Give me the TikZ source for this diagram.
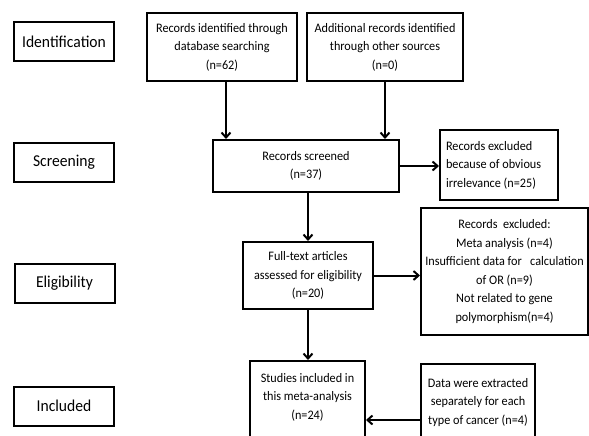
\documentclass[tikz,border=0pt]{standalone}
\usepackage{fontspec}
\setmainfont{Carlito}[FakeStretch=0.94]
\usetikzlibrary{arrows.meta}
\begin{document}
\begin{tikzpicture}[x=1pt,y=-1pt,
  base/.style={draw, line width=2pt, inner sep=0pt, align=center},
  lab/.style={base, minimum width=100pt, minimum height=39pt, font=\fontsize{16.6}{20}\selectfont},
  flow/.style={base, font=\fontsize{13}{18.5}\selectfont},
  arr/.style={line width=2pt, -{Straight Barb[length=5pt,width=9pt,line width=2pt]}}]
\useasboundingbox (0,0) rectangle (589,436);
% stage labels
\node[lab] (idlab)  at (64,41.5)  {Identification};
\node[lab] (scrlab) at (64,162.5) {Screening};
\node[lab] (elilab) at (64.5,283.5) {Eligibility};
\node[lab] (inclab) at (64,406)   {Included};
% flow boxes
\node[flow, minimum width=150pt, minimum height=68pt] (box1) at (222,47)
  {Records identified through\\database searching\\(n=62)};
\node[flow, minimum width=156pt, minimum height=68pt] (box2) at (385,47)
  {Additional records identified\\through other sources\\(n=0)};
\node[flow, minimum width=186pt, minimum height=52pt] (scr) at (306,166)
  {Records screened\\(n=37)};
\node[flow, minimum width=118pt, minimum height=70pt, text width=106pt, align=flush left] (exc1) at (499,165)
  {Records excluded\\because of obvious\\irrelevance (n=25)};
\node[flow, minimum width=130pt, minimum height=67pt] (full) at (308,275.5)
  {Full-text articles\\assessed for eligibility\\(n=20)};
\node[flow, minimum width=167pt, minimum height=127pt] (exc2) at (504.5,271.5)
  {Records\ \ excluded:\\Meta analysis (n=4)\\Insufficient data for\ \ \ calculation\\of OR (n=9)\\Not related to gene\\polymorphism(n=4)};
\node[flow, minimum width=115pt, minimum height=89pt] (stud) at (307.5,405.5)
  {Studies included in\\this meta-analysis\\(n=24)\\~};
\node[flow, minimum width=114pt, minimum height=93pt] (data) at (478,410.5)
  {Data were extracted\\separately for each\\type of cancer (n=4)\\~};
% connectors
\draw[arr] ([xshift=4pt]box1.south) -- ([xshift=4pt]box1.south |- scr.north);
\draw[arr] (box2.south) -- (box2.south |- scr.north);
\draw[arr] (scr.east) -- (scr.east -| exc1.west);
\draw[arr] (scr.south -| full.north) -- (full.north);
\draw[arr] (full.east) -- (full.east -| exc2.west);
\draw[arr] (full.south) -- (full.south |- stud.north);
\draw[arr] ([yshift=-9.5pt]data.west) -- ([yshift=-9.5pt]data.west -| stud.east);
\end{tikzpicture}
\end{document}
